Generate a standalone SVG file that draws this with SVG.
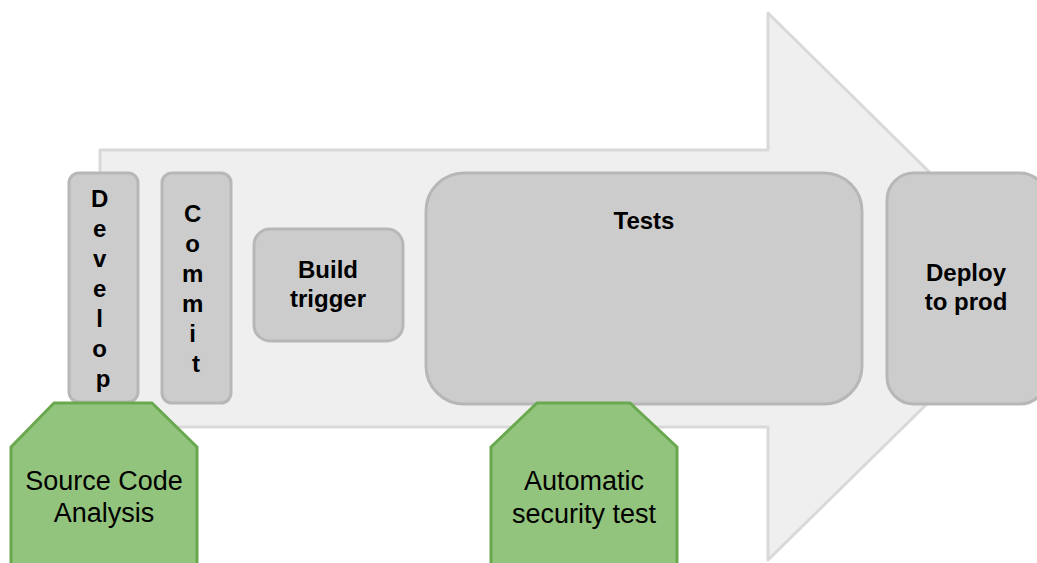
<svg xmlns="http://www.w3.org/2000/svg" width="1037" height="563" viewBox="0 0 1037 563">
  <style>
    .flow { fill: #efefef; stroke: #d9d9d9; stroke-width: 3; stroke-linejoin: round; }
    .step { fill: #cccccc; stroke: #b7b7b7; stroke-width: 3; }
    .check { fill: #93c47d; stroke: #6aa84f; stroke-width: 3; stroke-linejoin: round; }
    .bold { font-family: "Liberation Sans", Arial, sans-serif; font-weight: bold; font-size: 24px; fill: #000; text-anchor: middle; }
    .plain { font-family: "Liberation Sans", Arial, sans-serif; font-size: 27px; fill: #000; text-anchor: middle; }
  </style>
  <rect width="1037" height="563" fill="#ffffff"/>

  <!-- big pipeline arrow in the background -->
  <g id="connectors">
    <polygon class="flow" points="100,150 768,150 768,13 1046,287 768,560 768,427 100,427"/>
  </g>

  <g id="develop">
    <rect class="step" x="69" y="173" width="69" height="229" rx="10"/>
    <text class="bold" x="103">
      <tspan x="103" y="207">D</tspan>
      <tspan x="103" y="237">e</tspan>
      <tspan x="103" y="267">v</tspan>
      <tspan x="103" y="297">e</tspan>
      <tspan x="103" y="327">l</tspan>
      <tspan x="103" y="357">o</tspan>
      <tspan x="103" y="387">p</tspan>
    </text>
  </g>

  <g id="commit">
    <rect class="step" x="162" y="173" width="69" height="230" rx="10"/>
    <text class="bold" x="196">
      <tspan x="196" y="222">C</tspan>
      <tspan x="196" y="252">o</tspan>
      <tspan x="196" y="282">m</tspan>
      <tspan x="196" y="312">m</tspan>
      <tspan x="196" y="342">i</tspan>
      <tspan x="196" y="372">t</tspan>
    </text>
  </g>

  <g id="build-trigger">
    <rect class="step" x="254" y="229" width="149" height="112" rx="16"/>
    <text class="bold"><tspan x="328" y="278">Build</tspan><tspan x="328" y="307">trigger</tspan></text>
  </g>

  <g id="tests">
    <rect class="step" x="426" y="173" width="436" height="231" rx="38"/>
    <text class="bold" x="644" y="229">Tests</text>
  </g>

  <g id="deploy">
    <rect class="step" x="887" y="173" width="160" height="231" rx="27"/>
    <text class="bold"><tspan x="966" y="281">Deploy</tspan><tspan x="966" y="310">to prod</tspan></text>
  </g>

  <g id="source-code-analysis">
    <polygon class="check" points="11,570 11,447 54,403 152,403 197,447 197,570"/>
    <text class="plain"><tspan x="104" y="490">Source Code</tspan><tspan x="104" y="522">Analysis</tspan></text>
  </g>

  <g id="automatic-security-test">
    <polygon class="check" points="491,570 491,447 537,403 630,403 677,447 677,570"/>
    <text class="plain"><tspan x="584" y="490">Automatic</tspan><tspan x="584" y="523">security test</tspan></text>
  </g>
</svg>
